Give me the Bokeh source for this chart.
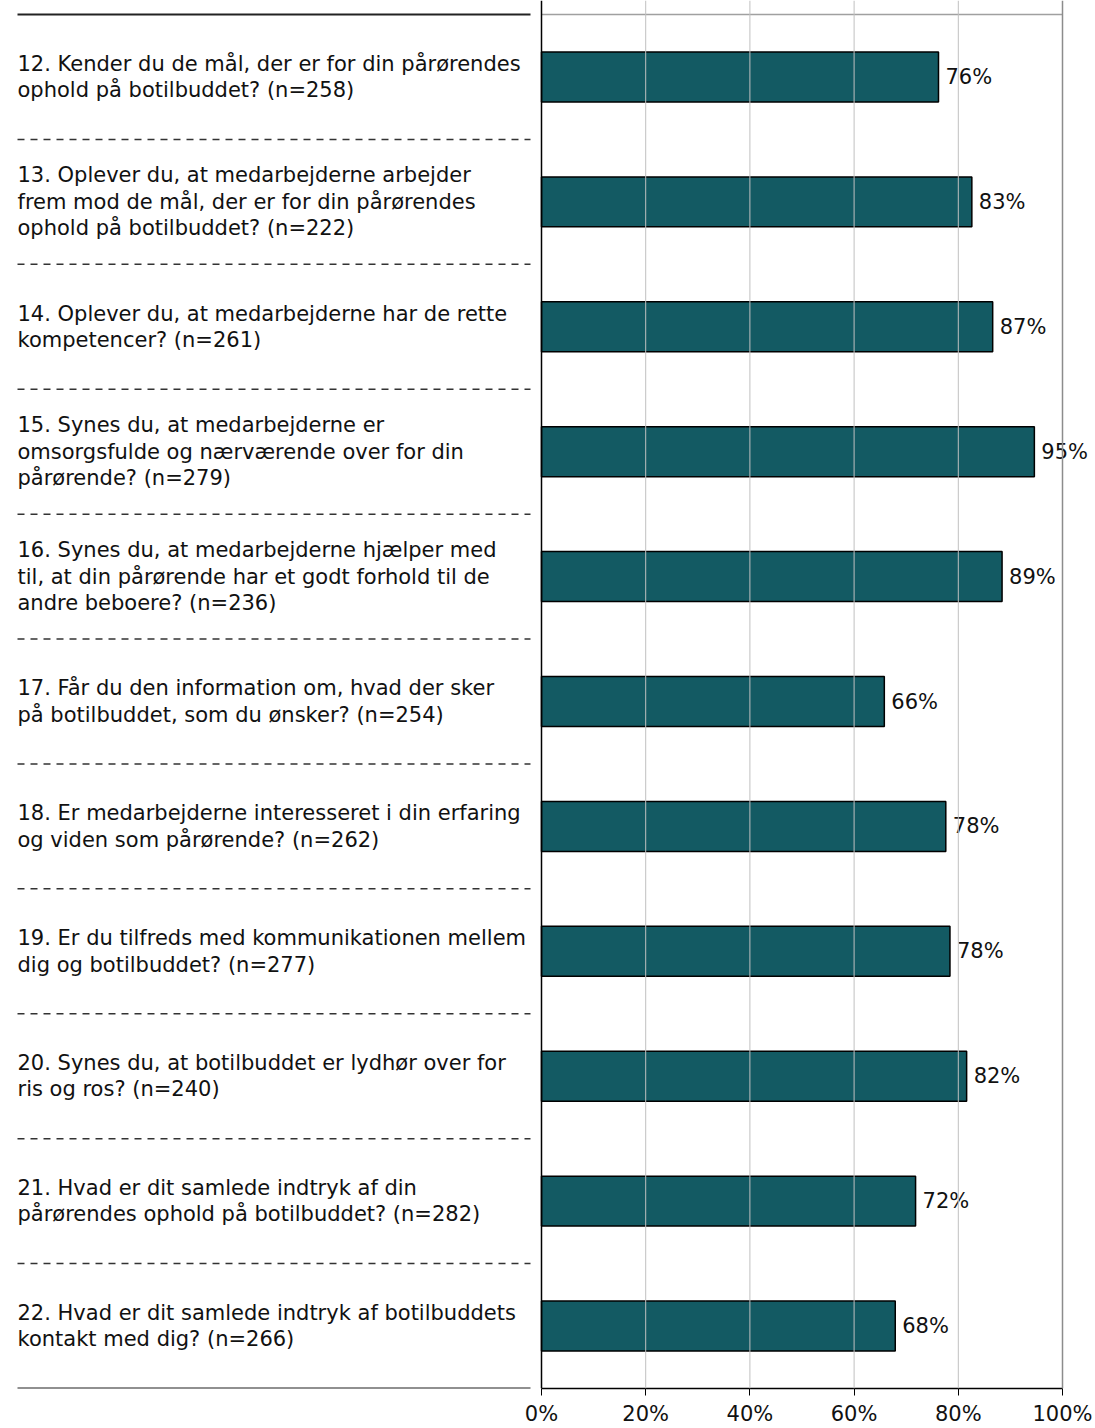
from bokeh.plotting import figure
from bokeh.models import Range1d, FixedTicker, NumeralTickFormatter, Span, LinearAxis, ColumnDataSource
from bokeh.core.properties import value
from bokeh.embed import file_html
from bokeh.resources import INLINE

questions = [
    "12. Kender du de mål, der er for din pårørendes\nophold på botilbuddet? (n=258)",
    "13. Oplever du, at medarbejderne arbejder\nfrem mod de mål, der er for din pårørendes\nophold på botilbuddet?  (n=222)",
    "14. Oplever du, at medarbejderne har de rette\nkompetencer? (n=261)",
    "15. Synes du, at medarbejderne er\nomsorgsfulde og nærværende over for din\npårørende? (n=279)",
    "16. Synes du, at medarbejderne hjælper med\ntil, at din pårørende har et godt forhold til de\nandre beboere? (n=236)",
    "17. Får du den information om, hvad der sker\npå botilbuddet, som du ønsker? (n=254)",
    "18. Er medarbejderne interesseret i din erfaring\nog viden som pårørende? (n=262)",
    "19. Er du tilfreds med kommunikationen mellem\ndig og botilbuddet? (n=277)",
    "20. Synes du, at botilbuddet er lydhør over for\nris og ros? (n=240)",
    "21. Hvad er dit samlede indtryk af din\npårørendes ophold på botilbuddet? (n=282)",
    "22. Hvad er dit samlede indtryk af botilbuddets\nkontakt med dig? (n=266)",
]
values = [0.762, 0.826, 0.866, 0.946, 0.884, 0.658, 0.776, 0.784, 0.816, 0.718, 0.679]
value_labels = ["76%", "83%", "87%", "95%", "89%", "66%", "78%", "78%", "82%", "72%", "68%"]
x_ticks = [0, 0.2, 0.4, 0.6, 0.8, 1.0]

W, H = 1095, 1428
PX0, PX1 = 541, 1062          # pixel positions of 0% and 100%
PY_TOP, PY_BOT = 14, 1388     # pixel positions of top and bottom of category area
n = len(values)
ppx = (PX1 - PX0)
ppy = (PY_BOT - PY_TOP) / n

x_start = -PX0 / ppx
x_end = (W - PX0) / ppx
y_end = n + PY_TOP / ppy

FS = "21px"

p = figure(width=W, height=H, output_backend="svg", toolbar_location=None,
           x_range=Range1d(x_start, x_end), y_range=Range1d(0, y_end),
           x_axis_type=None, y_axis_type=None,
           min_border_left=0, min_border_right=0, min_border_top=0, min_border_bottom=H - PY_BOT)
p.outline_line_color = None
p.grid.visible = False
p.background_fill_color = "white"
p.border_fill_color = "white"

ys = [n - 0.5 - i for i in range(n)]
src = ColumnDataSource(dict(y=ys, v=values, lab=value_labels, q=questions))

# gridlines
for t in x_ticks[1:-1]:
    p.add_layout(Span(location=t, dimension="height", line_color="#c0c0c0", line_width=1))
p.add_layout(Span(location=1.0, dimension="height", line_color="#8c8c8c", line_width=1.5))
p.segment(x0=[0], y0=[n], x1=[1], y1=[n], line_color="#a0a0a0", line_width=1.5)

# bars
p.hbar(y="y", left=0, right="v", height=0.4, source=src,
       fill_color="#135a63", line_color="black", line_width=1.5)

# y axis line
p.add_layout(Span(location=0, dimension="height", line_color="black", line_width=1.5))

# value labels
p.text(x="v", y="y", text="lab", source=src, x_offset=7,
       text_font=value("DejaVu Sans"), text_font_size=FS,
       text_align="left", text_baseline="middle", text_color="#111111")

# question labels
lx0 = (17 - PX0) / ppx
lx1 = (530 - PX0) / ppx
p.text(x=lx0, y="y", text="q", source=src,
       text_font=value("DejaVu Sans"), text_font_size=FS,
       text_align="left", text_baseline="middle", text_color="#111111",
       text_line_height=1.1)

# separators
sep_y = list(range(1, n))
p.segment(x0=[lx0] * len(sep_y), y0=sep_y, x1=[lx1] * len(sep_y), y1=sep_y,
          line_color="#333333", line_width=1.5, line_dash="7 6")
p.segment(x0=[lx0, lx0], y0=[0, n], x1=[lx1, lx1], y1=[0, n],
          line_color="#222222", line_width=2)

# x axis
ax = LinearAxis(ticker=FixedTicker(ticks=x_ticks),
                formatter=NumeralTickFormatter(format="0%"))
ax.bounds = (0, 1)
ax.axis_line_color = "black"
ax.axis_line_width = 1.5
ax.major_tick_out = 7
ax.major_tick_in = 0
ax.minor_tick_out = 0
ax.minor_tick_in = 0
ax.major_label_standoff = 6
ax.major_label_text_font = "DejaVu Sans"
ax.major_label_text_font_size = FS
ax.major_label_text_color = "#111111"
p.add_layout(ax, "below")

open("out.html", "w").write(file_html(p, INLINE))
